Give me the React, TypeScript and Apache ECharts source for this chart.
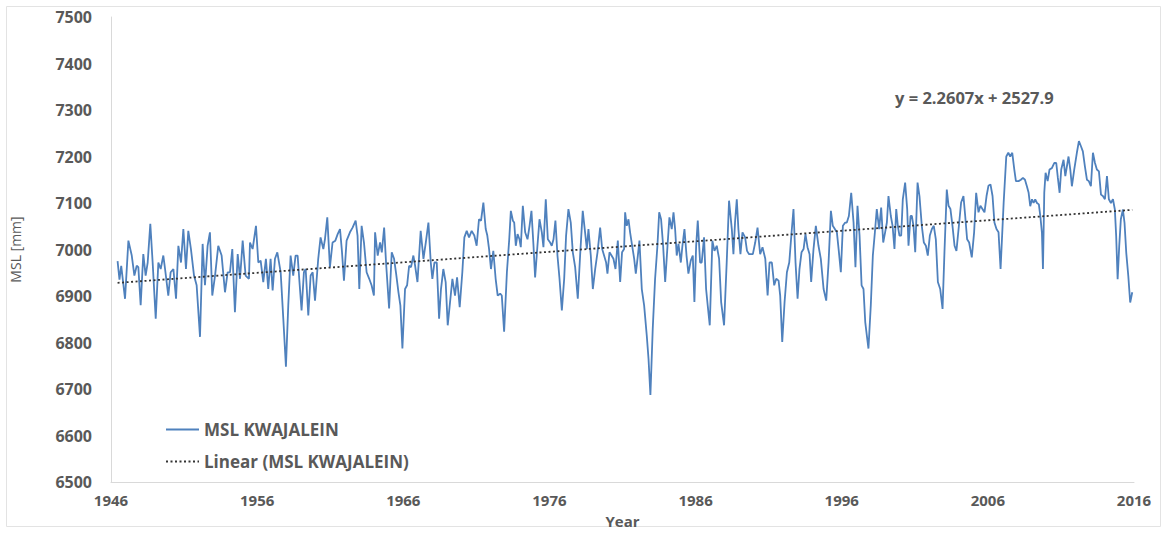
import React, { useEffect, useRef } from "react";
import * as echarts from "echarts";

// Monthly mean sea level at Kwajalein, [year, mm]
const msl1940s: [number, number][] = [
  [1946.45, 6975], [1946.58, 6935], [1946.7, 6965], [1946.96, 6894],
  [1947.19, 7019], [1947.42, 6987], [1947.6, 6944], [1947.76, 6965], [1947.87, 6962],
  [1948.03, 6880], [1948.21, 6990], [1948.37, 6944], [1948.51, 6972], [1948.69, 7055],
  [1948.85, 6972], [1949.06, 6851], [1949.24, 6972], [1949.4, 6958], [1949.58, 6987],
  [1949.7, 6958], [1949.92, 6901],
];
const msl1950s: [number, number][] = [
  [1950.08, 6951], [1950.27, 6958], [1950.45, 6894], [1950.61, 7008], [1950.79, 6972],
  [1950.95, 7044], [1951.13, 6958], [1951.29, 7040], [1951.47, 7001], [1951.68, 6944],
  [1951.86, 6923], [1952.09, 6812], [1952.27, 7012], [1952.43, 6923], [1952.61, 7008],
  [1952.77, 7037], [1952.93, 6901], [1953.12, 6944], [1953.34, 7008], [1953.57, 6987],
  [1953.8, 6908], [1953.98, 6951], [1954.14, 6951], [1954.3, 7001], [1954.48, 6865],
  [1954.67, 6990], [1954.83, 6937], [1955.01, 7019], [1955.21, 6944], [1955.44, 6937],
  [1955.51, 7015], [1955.69, 7001], [1955.92, 7051], [1956.08, 6972], [1956.24, 6976],
  [1956.42, 6930], [1956.6, 6980], [1956.76, 6915], [1956.92, 6980], [1957.06, 6912],
  [1957.22, 6980], [1957.38, 6994], [1957.61, 6951], [1957.79, 6851], [1957.97, 6748],
  [1958.13, 6880], [1958.29, 6987], [1958.47, 6944], [1958.63, 6987], [1958.77, 6987],
  [1958.88, 6937], [1959.04, 6869], [1959.2, 6951], [1959.32, 6958], [1959.5, 6858],
  [1959.66, 6944], [1959.8, 6951], [1959.96, 6890],
];
const msl1960s: [number, number][] = [
  [1960.18, 6980], [1960.34, 7026], [1960.53, 7001], [1960.64, 7022], [1960.8, 7069],
  [1960.98, 6962], [1961.16, 7015], [1961.35, 7019], [1961.51, 7033], [1961.67, 7044],
  [1961.8, 6997], [1961.94, 6933], [1962.12, 7019], [1962.35, 7037], [1962.53, 7047],
  [1962.74, 7062], [1962.87, 7030], [1962.99, 6915], [1963.15, 7051], [1963.31, 7015],
  [1963.49, 6951], [1963.67, 6937], [1963.83, 6923], [1963.99, 6901], [1964.07, 7037],
  [1964.25, 6987], [1964.41, 7015], [1964.53, 6994], [1964.69, 7047], [1964.82, 6972],
  [1965.03, 6873], [1965.21, 6994], [1965.37, 6980], [1965.51, 6948], [1965.67, 6908],
  [1965.8, 6880], [1965.94, 6787], [1966.12, 6915], [1966.26, 6923], [1966.4, 6965],
  [1966.53, 6962], [1966.69, 6987], [1966.81, 6965], [1966.97, 6930], [1967.19, 7040],
  [1967.38, 6980], [1967.54, 7015], [1967.72, 7058], [1967.88, 6972], [1967.99, 6937],
  [1968.13, 6972], [1968.29, 6972], [1968.45, 6851], [1968.58, 6915], [1968.74, 6958],
  [1968.9, 6930], [1969.04, 6837], [1969.2, 6887], [1969.36, 6937], [1969.54, 6901],
  [1969.68, 6940], [1969.86, 6876],
];
const msl1970s: [number, number][] = [
  [1970.04, 6951], [1970.18, 7026], [1970.34, 7040], [1970.5, 7026], [1970.68, 7040],
  [1970.86, 7030], [1971.02, 7008], [1971.18, 7065], [1971.32, 7062], [1971.48, 7101],
  [1971.64, 7044], [1971.75, 7030], [1971.87, 7001], [1972.0, 6958], [1972.16, 6997],
  [1972.32, 6937], [1972.46, 6901], [1972.63, 6905], [1972.74, 6901], [1972.9, 6823],
  [1973.09, 6951], [1973.25, 7022], [1973.36, 7083], [1973.5, 7062], [1973.59, 7058],
  [1973.7, 7008], [1973.82, 7033], [1973.95, 7022], [1974.04, 7005], [1974.18, 7094],
  [1974.34, 7037], [1974.5, 7022], [1974.64, 7051], [1974.77, 7083], [1974.91, 7008],
  [1975.02, 6940], [1975.18, 7008], [1975.32, 7065], [1975.48, 7037], [1975.59, 7005],
  [1975.75, 7108], [1975.89, 7022], [1976.05, 7015], [1976.16, 7008], [1976.28, 7022],
  [1976.41, 7062], [1976.55, 6987], [1976.69, 6937], [1976.85, 6869], [1977.01, 6937],
  [1977.14, 7030], [1977.3, 7087], [1977.46, 7058], [1977.6, 6994], [1977.76, 6962],
  [1977.94, 6894], [1978.1, 6987], [1978.28, 7083], [1978.44, 7037], [1978.56, 7001],
  [1978.67, 7044], [1978.83, 6987], [1978.97, 6915], [1979.13, 6958], [1979.29, 6994],
  [1979.47, 7047], [1979.61, 7001], [1979.74, 6987], [1979.88, 6972], [1979.97, 6948],
];
const msl1980s: [number, number][] = [
  [1980.11, 6994], [1980.25, 6987], [1980.38, 6980], [1980.52, 6958], [1980.68, 7019],
  [1980.84, 6930], [1980.97, 6994], [1981.11, 7001], [1981.18, 7080], [1981.29, 7051],
  [1981.41, 7065], [1981.52, 7037], [1981.64, 7012], [1981.8, 6980], [1981.91, 6948],
  [1982.05, 6987], [1982.16, 7019], [1982.32, 6915], [1982.48, 6880], [1982.66, 6815],
  [1982.78, 6765], [1982.91, 6687], [1983.07, 6830], [1983.23, 6937], [1983.39, 7008],
  [1983.51, 7080], [1983.64, 7065], [1983.78, 7008], [1983.92, 6930], [1984.08, 7008],
  [1984.21, 7069], [1984.37, 7044], [1984.49, 7080], [1984.6, 7044], [1984.71, 6987],
  [1984.83, 7012], [1984.99, 6972], [1985.1, 7008], [1985.24, 7044], [1985.38, 6987],
  [1985.51, 6948], [1985.67, 6976], [1985.81, 6987], [1985.92, 6887], [1986.04, 7008],
  [1986.15, 7062], [1986.31, 6972], [1986.42, 6972], [1986.58, 7026], [1986.72, 6915],
  [1986.83, 6880], [1986.97, 6837], [1987.15, 7019], [1987.29, 6997], [1987.45, 7008],
  [1987.61, 6980], [1987.75, 6887], [1987.95, 6837], [1988.13, 6972], [1988.29, 7105],
  [1988.48, 7044], [1988.59, 6990], [1988.7, 7058], [1988.82, 7108], [1988.93, 7044],
  [1989.07, 6990], [1989.21, 7037], [1989.39, 7026], [1989.52, 6997], [1989.66, 6990],
  [1989.92, 6990],
];
const msl1990s: [number, number][] = [
  [1990.08, 7015], [1990.24, 7047], [1990.42, 6990], [1990.58, 7005], [1990.77, 6980],
  [1990.93, 6901], [1991.06, 6972], [1991.22, 6972], [1991.38, 6923], [1991.52, 6937],
  [1991.68, 6933], [1991.79, 6901], [1991.93, 6801], [1992.09, 6887], [1992.25, 6951],
  [1992.41, 6972], [1992.57, 7037], [1992.7, 7087], [1992.84, 6972], [1992.98, 6894],
  [1993.11, 6958], [1993.25, 6994], [1993.39, 7001], [1993.52, 7033], [1993.66, 7005],
  [1993.8, 6990], [1993.91, 6930], [1994.07, 7001], [1994.23, 7051], [1994.41, 7008],
  [1994.57, 6980], [1994.76, 6915], [1994.94, 6890], [1995.1, 6972], [1995.26, 7083],
  [1995.39, 7051], [1995.53, 7044], [1995.67, 7037], [1995.8, 6997], [1995.94, 6951],
  [1996.08, 7051], [1996.24, 7058], [1996.35, 7058], [1996.49, 7072], [1996.65, 7122],
  [1996.81, 7058], [1996.94, 6962], [1997.08, 7094], [1997.22, 7030], [1997.36, 6923],
  [1997.49, 6915], [1997.61, 6844], [1997.72, 6815], [1997.83, 6787], [1997.99, 6880],
  [1998.13, 6987], [1998.27, 7037], [1998.4, 7087], [1998.56, 7044], [1998.7, 7090],
  [1998.84, 7015], [1998.97, 7037], [1999.09, 7058], [1999.2, 7115], [1999.36, 7072],
  [1999.48, 7051], [1999.61, 7001], [1999.73, 7087], [1999.84, 7051], [1999.95, 7030],
];
const msl2000s: [number, number][] = [
  [2000.07, 7030], [2000.18, 7108], [2000.34, 7144], [2000.48, 7087], [2000.57, 7008],
  [2000.71, 7072], [2000.8, 7072], [2000.91, 7051], [2001.03, 6994], [2001.19, 7144],
  [2001.32, 7115], [2001.48, 7051], [2001.62, 7015], [2001.76, 7008], [2001.89, 6987],
  [2002.03, 7030], [2002.17, 7044], [2002.3, 7051], [2002.44, 7022], [2002.58, 6930],
  [2002.74, 6915], [2002.9, 6872], [2003.03, 6994], [2003.19, 7129], [2003.31, 7094],
  [2003.44, 7087], [2003.58, 7051], [2003.72, 7008], [2003.85, 6997], [2004.04, 7058],
  [2004.17, 7101], [2004.33, 7115], [2004.45, 7072], [2004.58, 7022], [2004.72, 7015],
  [2004.9, 6983], [2005.06, 7037], [2005.2, 7122], [2005.36, 7080], [2005.49, 7094],
  [2005.63, 7087], [2005.77, 7080], [2005.91, 7115], [2006.04, 7137], [2006.18, 7140],
  [2006.32, 7115], [2006.45, 7058], [2006.59, 7044], [2006.73, 7037], [2006.87, 6958],
  [2007.08, 7100], [2007.26, 7200], [2007.4, 7208], [2007.53, 7200], [2007.67, 7208],
  [2007.81, 7172], [2007.92, 7147], [2008.1, 7147], [2008.26, 7150], [2008.4, 7154],
  [2008.54, 7150], [2008.67, 7136], [2008.79, 7122], [2008.9, 7093], [2009.02, 7108],
  [2009.13, 7100], [2009.24, 7108], [2009.36, 7100], [2009.49, 7097], [2009.59, 7072],
  [2009.7, 7036], [2009.77, 6958], [2009.86, 7122], [2009.95, 7165],
];
const msl2010s: [number, number][] = [
  [2010.09, 7147], [2010.22, 7172], [2010.38, 7175], [2010.54, 7186], [2010.68, 7186],
  [2010.79, 7154], [2010.91, 7122], [2011.02, 7172], [2011.18, 7193], [2011.3, 7158],
  [2011.41, 7179], [2011.52, 7200], [2011.64, 7172], [2011.75, 7136], [2011.91, 7172],
  [2012.09, 7208], [2012.23, 7233], [2012.37, 7222], [2012.5, 7211], [2012.64, 7179],
  [2012.78, 7150], [2012.91, 7147], [2013.05, 7136], [2013.19, 7208], [2013.33, 7186],
  [2013.46, 7172], [2013.6, 7168], [2013.74, 7118], [2013.87, 7115], [2014.01, 7108],
  [2014.15, 7158], [2014.28, 7108], [2014.42, 7100], [2014.56, 7108], [2014.69, 7086],
  [2014.78, 7029], [2014.88, 6936], [2014.99, 7008], [2015.1, 7065], [2015.24, 7086],
  [2015.35, 7058], [2015.47, 6993], [2015.61, 6943], [2015.74, 6886], [2015.88, 6908],
];

// Linear trend as printed on the chart: y = 2.2607x + 2527.9 (x in years)
const trendSlope = 2.2607;
const trendIntercept = 2527.9;

const yearTicks = [1946, 1956, 1966, 1976, 1986, 1996, 2006, 2016];
const startYear = yearTicks[0];
const endYear = yearTicks[yearTicks.length - 1];

const seriesName = "MSL KWAJALEIN";
const trendName = "Linear (MSL KWAJALEIN)";

const textGray = "#595959";
const font = "'Open Sans', 'Liberation Sans', sans-serif";

export default function App() {
  const ref = useRef<HTMLDivElement>(null);

  useEffect(() => {
    if (!ref.current) return;
    const chart = echarts.init(ref.current, undefined, { renderer: "svg" });

    const msl = [
      ...msl1940s, ...msl1950s, ...msl1960s, ...msl1970s,
      ...msl1980s, ...msl1990s, ...msl2000s, ...msl2010s,
    ];
    const points = msl.map(([yr, v]) => [yr - startYear, v]);
    const firstYear = msl[0][0];
    const lastYear = msl[msl.length - 1][0];
    const trend = [firstYear, lastYear].map((yr) => [
      yr - startYear,
      trendSlope * yr + trendIntercept,
    ]);

    chart.setOption({
      animation: false,
      backgroundColor: "#ffffff",
      textStyle: { fontFamily: font },
      grid: { left: 111, right: 34, top: 17, bottom: 49 },
      xAxis: {
        type: "value",
        min: 0,
        max: endYear - startYear,
        interval: 10,
        name: "Year",
        nameLocation: "middle",
        nameGap: 31,
        nameTextStyle: { color: textGray, fontSize: 15, fontWeight: "bold", fontFamily: font },
        axisLine: { show: true, lineStyle: { color: "#d9d9d9", width: 1 } },
        axisTick: { show: false },
        splitLine: { show: false },
        axisLabel: {
          color: textGray,
          fontSize: 15,
          fontWeight: "bold",
          fontFamily: font,
          margin: 10,
          formatter: (v: number) => String(startYear + v),
        },
      },
      yAxis: {
        type: "value",
        min: 6500,
        max: 7500,
        interval: 100,
        name: "MSL [mm]",
        nameLocation: "middle",
        nameGap: 89,
        nameRotate: 90,
        nameTextStyle: { color: textGray, fontSize: 14, fontFamily: font },
        axisLine: { show: true, lineStyle: { color: "#d9d9d9", width: 1 } },
        axisTick: { show: false },
        splitLine: { show: false },
        axisLabel: {
          color: textGray,
          fontSize: 16,
          fontWeight: "bold",
          fontFamily: font,
          margin: 19,
          formatter: (v: number) => String(v),
        },
      },
      legend: {
        orient: "vertical",
        left: 160,
        top: 416,
        itemWidth: 33,
        itemHeight: 17,
        itemGap: 15,
        data: [seriesName, trendName],
        itemStyle: { opacity: 0 },
        textStyle: { color: textGray, fontSize: 17, fontWeight: "bold", fontFamily: font },
      },
      series: [
        {
          name: seriesName,
          type: "line",
          data: points,
          symbol: "none",
          lineStyle: { color: "#4f81bd", width: 1.8 },
          itemStyle: { color: "#4f81bd" },
          z: 2,
        },
        {
          name: trendName,
          type: "line",
          data: trend,
          symbol: "none",
          lineStyle: { color: "#333333", width: 1.8, type: [2, 2.5] },
          itemStyle: { color: "#333333" },
          z: 3,
        },
      ],
      graphic: [
        {
          type: "rect",
          shape: { x: 6.5, y: 6.5, width: 1154, height: 520 },
          style: { fill: "none", stroke: "#e3e3e3", lineWidth: 1 },
          silent: true,
        },
        {
          type: "text",
          left: 895,
          top: 89,
          style: {
            text: `y = ${trendSlope}x + ${trendIntercept}`,
            fill: textGray,
            font: `bold 16.5px ${font}`,
          },
        },
      ],
    });

    return () => chart.dispose();
  }, []);

  return (
    <div
      ref={ref}
      style={{ position: "fixed", left: 0, top: 0, width: 1168, height: 533, background: "#fff" }}
    />
  );
}
